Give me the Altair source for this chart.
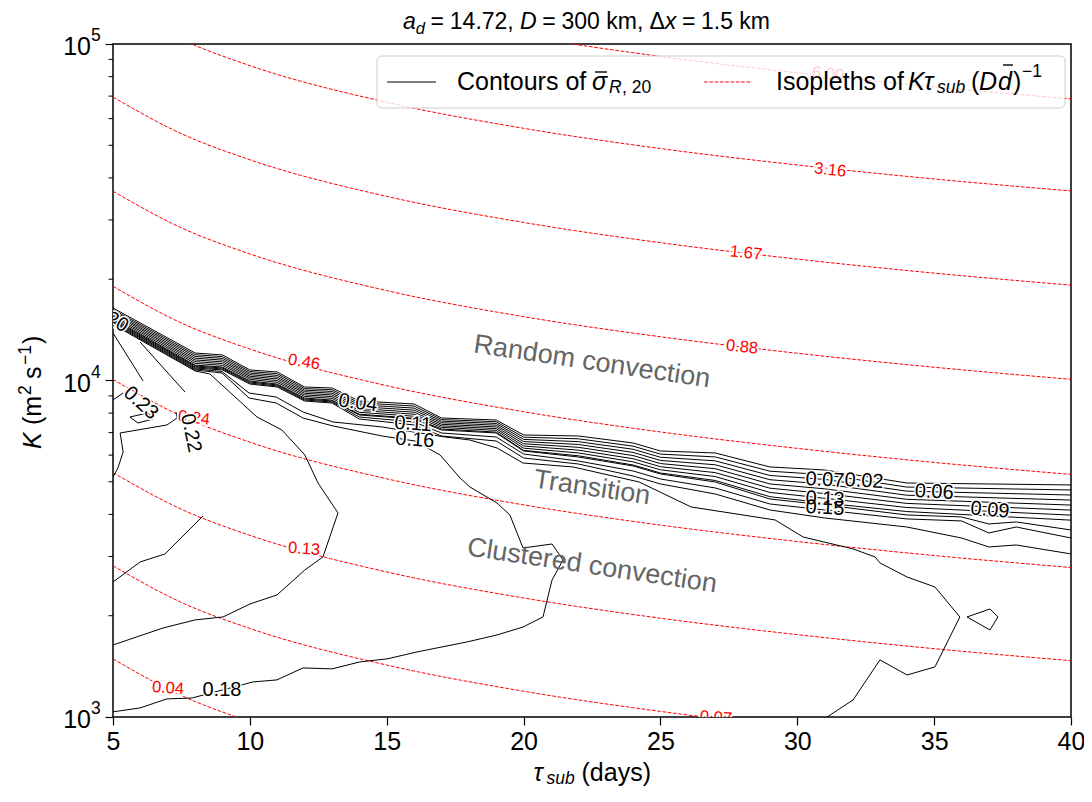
import altair as alt
import pandas as pd

FONT = "Liberation Sans"

# ---------------- isopleths of K*tau_sub*(D*dbar)^-1 (red dashed) ----------------
tau_iso = [5, 7.5, 10, 15, 20, 25, 30, 35, 40]
iso_6_00 = [248800, 193600, 162000, 126000, 105500, 91850, 82100, 74570, 68690]
iso_3_16 = [132400, 103100, 86250, 67110, 56170, 48900, 43700, 39710, 36580]
iso_1_67 = [69550, 54130, 45290, 35250, 29490, 25680, 22950, 20850, 19200]
iso_0_88 = [36520, 28420, 23780, 18500, 15480, 13490, 12050, 10950, 10080]
iso_0_46 = [19050, 14820, 12400, 9652, 8077, 7032, 6285, 5709, 5259]
iso_0_24 = [10070, 7837, 6557, 5104, 4270, 3718, 3323, 3019, 2781]
iso_0_13 = [5323, 4143, 3467, 2698, 2258, 1966, 1757, 1596, 1470]
iso_0_07 = [2815, 2190, 1833, 1427, 1193, 1039, 929, 844, 777]
iso_0_04 = [1488, 1158, 969, 754, 631, 550, 491, 446, 411]
iso_names = ["6.00", "3.16", "1.67", "0.88", "0.46", "0.24", "0.13", "0.07", "0.04"]

iso_lab_text = ["6.00", "3.16", "1.67", "0.88", "0.46", "0.24", "0.13", "0.04", "0.07"]
iso_lab_tau = [31.12, 31.20, 28.13, 27.98, 11.98, 7.96, 11.98, 7.01, 27.03]
iso_lab_K = [81440, 42230, 23930, 12580, 11350, 7737, 3158, 1219, 995]
iso_lab_angle = [6, 6, 6, 6, 10, 7, 4, 4, 4]

# ---------------- contours of sigma_R,20 (black) ----------------
tau_band = [5, 8, 9, 10, 11, 12, 13, 14, 16, 17, 19, 20, 22, 24, 25, 27, 29, 31, 34, 40]
band_a = [16420, 12070, 11910, 10750, 10600, 9565, 9500, 8691, 8515, 7737, 7632, 6888, 6841, 6521, 6174, 6090, 5534, 5421, 4960, 4893]
band_b = [16250, 11930, 11770, 10635, 10475, 9463, 9388, 8580, 8397, 7654, 7542, 6785, 6710, 6382, 6043, 5928, 5376, 5249, 4823, 4728]
band_c = [16090, 11790, 11632, 10521, 10352, 9362, 9278, 8470, 8280, 7572, 7454, 6684, 6581, 6247, 5914, 5771, 5222, 5082, 4690, 4568]
band_d = [15925, 11649, 11495, 10409, 10230, 9261, 9169, 8361, 8166, 7491, 7366, 6584, 6455, 6114, 5788, 5618, 5072, 4921, 4561, 4413]
band_e = [15764, 11512, 11360, 10298, 10110, 9163, 9061, 8254, 8052, 7411, 7279, 6486, 6331, 5984, 5665, 5469, 4927, 4765, 4435, 4264]
band_f = [15604, 11377, 11226, 10188, 9991, 9065, 8954, 8148, 7941, 7332, 7194, 6389, 6210, 5856, 5545, 5324, 4786, 4614, 4313, 4120]
band_g = [15445, 11243, 11094, 10079, 9874, 8968, 8849, 8044, 7830, 7254, 7109, 6293, 6091, 5732, 5427, 5183, 4649, 4467, 4194, 3980]
band_h = [15289, 11111, 10964, 9971, 9758, 8872, 8745, 7941, 7722, 7176, 7025, 6199, 5974, 5610, 5311, 5045, 4516, 4325, 4079, 3846]

tau_low = [5, 8, 9, 10, 11, 12, 13, 14, 16, 17, 19, 20, 22, 24, 25, 27, 29, 31, 34, 36, 37, 38, 40]
band_i = [15181, 11044, 10894, 9898, 9697, 8811, 8691, 7898, 7684, 7128, 6983, 6174, 5925, 5572, 5275, 4994, 4445, 4267, 3985, 3931, 3747, 3799, 3596]
band_j = [15077, 10969, 10820, 9830, 9631, 8751, 8632, 7791, 7528, 6983, 6794, 6048, 5765, 5384, 5097, 4794, 4296, 4123, 3878, 3825, 3523, 3670, 3404]
band_k = [14975, 10894, 10746, 9763, 9565, 8691, 8573, 7684, 7376, 6841, 6611, 5885, 5647, 5203, 4927, 4600, 4123, 3904, 3670, 3404, 3201, 3245, 3052]

c16_tau = [5.00, 8.00, 8.98, 9.97, 10.96, 11.94, 13.04, 14.83, 17.13, 18.04, 19.03, 19.98, 21.81, 24.22, 26.12, 29.19, 30.21, 32.04, 32.84, 33.02, 34.01, 35.03, 35.94, 35.03, 34.01, 33.02, 32.04, 31.09, 30.65]
c16_K = [14873, 10820, 10636, 9180, 8932, 8062, 7528, 7276, 6794, 6656, 6301, 5686, 5534, 4994, 4209, 3851, 3428, 3158, 2990, 2870, 2607, 2434, 1983, 1409, 1333, 1478, 1124, 1000, 950]

l18b_tau = [5.00, 8.00, 8.98, 9.97, 10.96, 11.94, 13.04, 14.83, 16.03, 16.95, 17.68, 18.04, 19.03, 19.50, 19.98, 21.04, 21.44, 21.04, 20.71, 19.98, 19.03, 17.93, 16.11, 15.01, 14.02, 13.00, 11.94, 10.99, 10.11, 7.89, 6.97, 5.99, 5.00]
l18b_K = [14771, 10746, 10528, 8871, 8573, 7737, 7326, 6841, 6611, 6007, 5132, 4826, 4325, 3985, 3179, 3267, 2929, 2554, 1983, 1851, 1753, 1671, 1561, 1488, 1458, 1390, 1399, 1289, 1271, 1139, 1132, 1064, 1036]

l18a_tau = [5.00, 8.00, 8.54, 10.26, 11.17, 12.01, 12.49, 13.22, 12.67, 12.01, 10.99, 10.01, 9.02, 8.00, 6.83, 5.00]
l18a_K = [14670, 10673, 10456, 7791, 7128, 6007, 4960, 4040, 2990, 2735, 2305, 2168, 1983, 1943, 1839, 1637]

s1_tau = [5.00, 6.10]
s1_K = [13842, 9966]
s2_tau = [5.99, 7.63]
s2_K = [13016, 9243]
s3_tau = [7.30, 7.34, 6.97, 5.26, 5.37, 5.18, 5.00]
s3_K = [8062, 7737, 7376, 6983, 6132, 5495, 5168]
s4_tau = [5.37, 5.00]
s4_K = [9180, 8751]
s5_tau = [5.00, 5.99, 6.90, 8.29]
s5_K = [2519, 2889, 3052, 3958]
d1_tau = [5.62, 6.28, 6.46, 5.91, 5.62]
d1_K = [7791, 8007, 7684, 7477, 7791]
d2_tau = [36.20, 37.04, 37.33, 37.04, 36.20]
d2_K = [1983, 2094, 1983, 1814, 1983]

con_lab_text = ["0.20", "0.23", "0.22", "0.04", "0.11", "0.16", "0.07", "0.02", "0.13", "0.15", "0.06", "0.09", "0.18"]
con_lab_tau = [4.89, 6.02, 7.85, 13.95, 15.96, 16.03, 31.01, 32.44, 31.01, 31.01, 35.00, 37.04, 8.98]
con_lab_K = [15337, 8573, 6983, 8573, 7426, 6656, 5063, 5028, 4445, 4180, 4664, 4123, 1203]
con_lab_angle = [30, 42, 78, 8, 4, 4, 3, 3, 3, 3, 3, 5, 0]

region_text = ["Random convection", "Transition", "Clustered convection"]
region_tau = [22.5, 22.5, 22.5]
region_K = [11350, 4794, 2811]

x_ticks = [5, 10, 15, 20, 25, 30, 35, 40]
y_major = [1000, 10000, 100000]
y_major_exp = ["3", "4", "5"]
y_minor = [2000, 3000, 4000, 5000, 6000, 7000, 8000, 9000,
           20000, 30000, 40000, 50000, 60000, 70000, 80000, 90000]

# ---------------- tables ----------------
rows = []
for name, ks in zip(iso_names, [iso_6_00, iso_3_16, iso_1_67, iso_0_88, iso_0_46,
                                iso_0_24, iso_0_13, iso_0_07, iso_0_04]):
    for i, (t, k) in enumerate(zip(tau_iso, ks)):
        rows.append({"line": "iso" + name, "ord": i, "tau": t, "K": k})
iso_df = pd.DataFrame(rows)

contours = [
    ("ba", tau_band, band_a), ("bb", tau_band, band_b), ("bc", tau_band, band_c),
    ("bd", tau_band, band_d), ("be", tau_band, band_e), ("bf", tau_band, band_f),
    ("bg", tau_band, band_g), ("bh", tau_band, band_h),
    ("bi", tau_low, band_i), ("bj", tau_low, band_j), ("bk", tau_low, band_k),
    ("c16", c16_tau, c16_K), ("l18b", l18b_tau, l18b_K), ("l18a", l18a_tau, l18a_K),
    ("s1", s1_tau, s1_K), ("s2", s2_tau, s2_K), ("s3", s3_tau, s3_K),
    ("s4", s4_tau, s4_K), ("s5", s5_tau, s5_K), ("d1", d1_tau, d1_K), ("d2", d2_tau, d2_K),
]
rows = []
for name, ts, ks in contours:
    for i, (t, k) in enumerate(zip(ts, ks)):
        rows.append({"line": name, "ord": i, "tau": t, "K": k})
con_df = pd.DataFrame(rows)

iso_lab_df = pd.DataFrame({"text": iso_lab_text, "tau": iso_lab_tau, "K": iso_lab_K, "ang": iso_lab_angle})
con_lab_df = pd.DataFrame({"text": con_lab_text, "tau": con_lab_tau, "K": con_lab_K, "ang": con_lab_angle})
region_df = pd.DataFrame({"text": region_text, "tau": region_tau, "K": region_K})
ymaj_df = pd.DataFrame({"K": y_major, "exp": y_major_exp})
ymin_df = pd.DataFrame({"K": y_minor})
ONE = pd.DataFrame({"k": [0]})

# ---------------- scales / axes ----------------
xscale = alt.Scale(domain=[5, 40], nice=False, zero=False)
yscale = alt.Scale(type="log", domain=[1000, 100000], nice=False)
xaxis = alt.Axis(values=x_ticks, title=None, grid=False, domain=False, tickSize=8,
                 tickWidth=1.2, tickColor="black", labelFont=FONT, labelFontSize=25,
                 labelColor="black", labelPadding=4, format="d", labelFlush=False,
                 labelOverlap=False)
yaxis = alt.Axis(values=y_major, title=None, grid=False, domain=False, tickSize=8,
                 tickWidth=1.2, tickColor="black", labels=False)


def X():
    return alt.X("tau:Q", scale=xscale, axis=xaxis)


def Y():
    return alt.Y("K:Q", scale=yscale, axis=yaxis)


def txt(s, x, y, size=25, italic=False, color="black", angle=0, baseline="middle"):
    return alt.Chart(ONE).mark_text(
        text=s, font=FONT, fontSize=size, fontStyle="italic" if italic else "normal",
        color=color, align="left", baseline=baseline, angle=angle
    ).encode(x=alt.value(x), y=alt.value(y))


def bar(x1, x2, y, color="black", width=1.4, dash=None):
    kw = dict(color=color, strokeWidth=width)
    if dash:
        kw["strokeDash"] = dash
    return alt.Chart(ONE).mark_rule(**kw).encode(
        x=alt.value(x1), x2=alt.value(x2), y=alt.value(y))


layers = []
layers.append(
    alt.Chart(iso_df).mark_line(color="red", strokeWidth=1, strokeDash=[3.7, 1.6],
                                interpolate="monotone", clip=True)
    .encode(x=X(), y=Y(), detail="line:N", order="ord:Q")
)
layers.append(
    alt.Chart(con_df).mark_line(color="black", strokeWidth=1, clip=True)
    .encode(x=X(), y=Y(), detail="line:N", order="ord:Q")
)
# red labels with white halo
base = alt.Chart(iso_lab_df).encode(x=X(), y=Y(), text="text:N",
                                    angle=alt.Angle("ang:Q", scale=None))
layers.append(base.mark_text(font=FONT, fontSize=16.5, color="white", stroke="white",
                             strokeWidth=4, clip=True))
layers.append(base.mark_text(font=FONT, fontSize=16.5, color="red", clip=True))
# black labels with white halo
base = alt.Chart(con_lab_df).encode(x=X(), y=Y(), text="text:N",
                                    angle=alt.Angle("ang:Q", scale=None))
layers.append(base.mark_text(font=FONT, fontSize=20, color="white", stroke="white",
                             strokeWidth=3, clip=True))
layers.append(base.mark_text(font=FONT, fontSize=20, color="black", clip=True))
# region annotations
layers.append(
    alt.Chart(region_df).mark_text(font=FONT, fontSize=27, color="#656565", angle=8.5)
    .encode(x=X(), y=Y(), text="text:N")
)
# minor y ticks
layers.append(
    alt.Chart(ymin_df).mark_rule(color="black", strokeWidth=1)
    .encode(y=Y(), x=alt.value(-4.5), x2=alt.value(0))
)
# y tick labels 10^n
layers.append(
    alt.Chart(ymaj_df).mark_text(font=FONT, fontSize=25, align="right", baseline="middle",
                                 dy=3, text="10", color="black")
    .encode(y=Y(), x=alt.value(-22))
)
layers.append(
    alt.Chart(ymaj_df).mark_text(font=FONT, fontSize=17.5, align="left", baseline="middle",
                                 dy=-8, color="black")
    .encode(y=Y(), x=alt.value(-22), text="exp:N")
)
# legend
layers.append(
    alt.Chart(ONE).mark_rect(fill="white", fillOpacity=0.8, stroke="#cccccc", strokeWidth=1,
                             cornerRadius=5)
    .encode(x=alt.value(264), x2=alt.value(952), y=alt.value(12), y2=alt.value(64))
)
layers.append(bar(274, 323, 38, width=1))
layers.append(bar(591, 639, 38, color="red", width=1, dash=[3.7, 1.6]))
legend_pieces = [
    ("Contours of", 344, 38, 25, False),
    ("\u03c3", 479, 38, 25, True),
    ("R", 496, 44, 17.5, True),
    (", 20", 509, 44, 17.5, False),
    ("Isopleths of", 663, 38, 25, False),
    ("K", 795, 38, 25, True),
    ("\u03c4", 811, 38, 25, True),
    ("sub", 824, 44, 17.5, True),
    ("(", 858, 38, 25, False),
    ("D", 866, 38, 25, True),
    ("d", 885, 38, 25, True),
    (")", 900, 38, 25, False),
    ("\u22121", 909, 28, 17.5, False),
]
for s, x, y, size, it in legend_pieces:
    layers.append(txt(s, x, y, size, it))
layers.append(bar(482, 494, 28))   # bar over sigma
layers.append(bar(890, 900, 21))   # bar over d

# title  a_d = 14.72, D = 300 km, Delta x = 1.5 km  (alphabetic baseline)
x0 = 290
TB = -15
title_pieces = [
    ("a", x0, TB, 23, True),
    ("d", x0 + 12.8, TB + 5, 16.5, True),
    ("=", x0 + 27.6, TB, 23, False),
    ("14.72,", x0 + 46.8, TB, 23, False),
    ("D", x0 + 117, TB, 23, True),
    ("=", x0 + 139.3, TB, 23, False),
    ("300 km,", x0 + 158.5, TB, 23, False),
    ("\u0394", x0 + 246.5, TB, 23, False),
    ("x", x0 + 261.8, TB, 23, True),
    ("=", x0 + 279, TB, 23, False),
    ("1.5 km", x0 + 298, TB, 23, False),
]
for s, x, y, size, it in title_pieces:
    layers.append(txt(s, x, y, size, it, baseline="alphabetic"))

# x axis title
for s, x, y, size, it in [("\u03c4", 420.5, 729, 25, True), ("sub", 433.5, 735, 17.5, True),
                          ("(days)", 468.5, 729, 25, False)]:
    layers.append(txt(s, x, y, size, it))

# y axis title (rotated)
for s, x, y, size, it in [("K", -80, 405, 25, True), ("(m", -80, 381, 25, False),
                          ("2", -87, 351, 17.5, False), ("s", -80, 335, 25, False),
                          ("\u22121", -87, 321, 17.5, False), (")", -80, 300, 25, False)]:
    layers.append(txt(s, x, y, size, it, angle=270))

chart = (
    alt.layer(*layers)
    .properties(width=958, height=673, autosize=alt.AutoSizeParams(type="none"),
                padding={"left": 105, "top": 36, "right": 13, "bottom": 76})
    .configure_view(stroke="black", strokeWidth=1.5)
)

chart.save("out.html", embed_options={"renderer": "svg", "actions": False})
